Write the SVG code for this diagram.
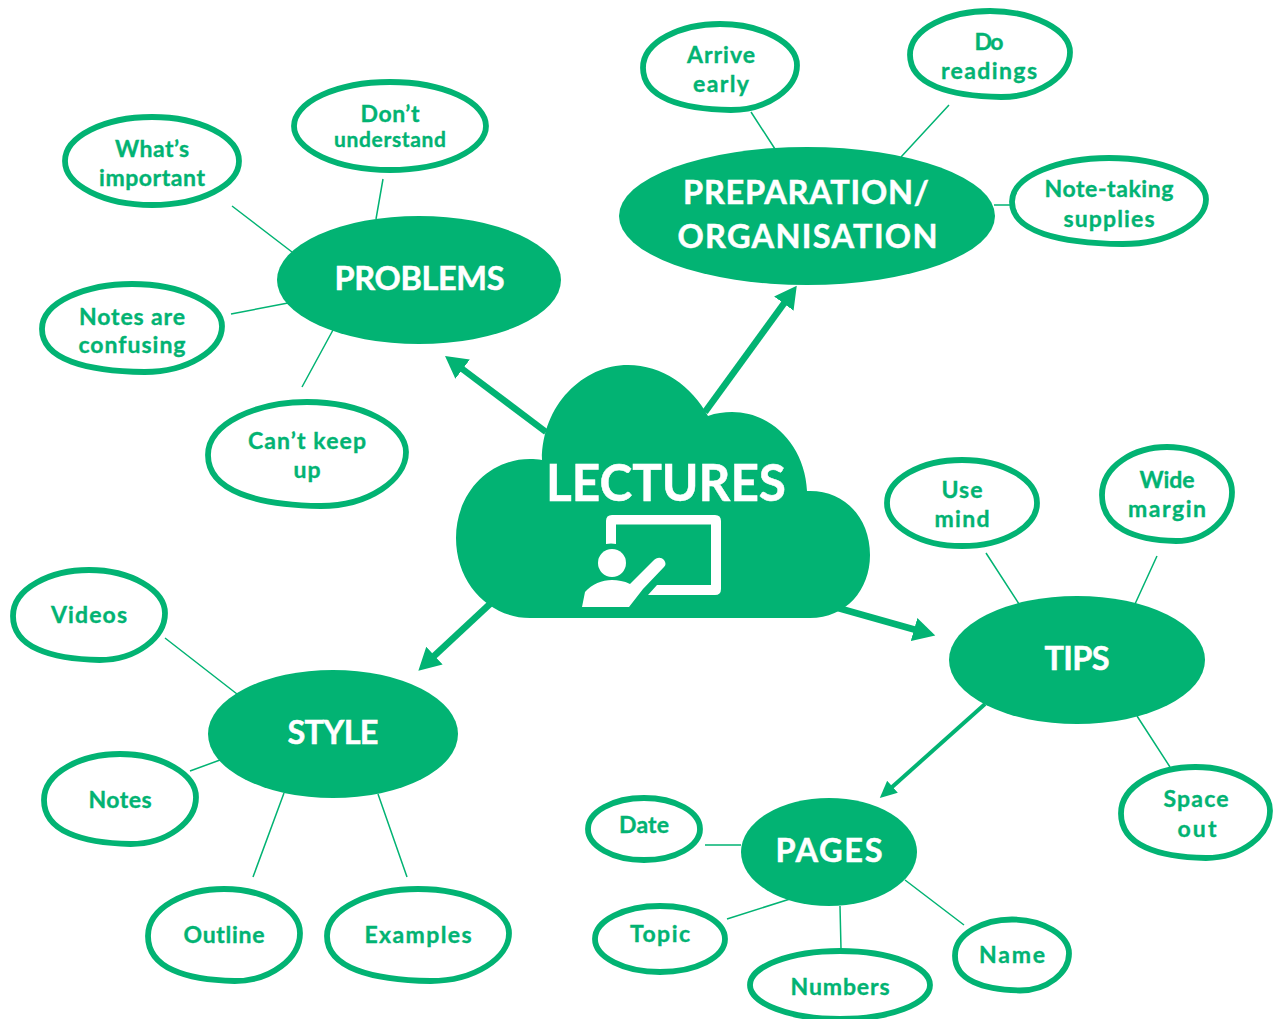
<svg xmlns="http://www.w3.org/2000/svg" width="1273" height="1019" viewBox="0 0 1273 1019">
<style>
.b,#blob{fill:#fff;stroke:#02b373;stroke-width:5.800;vector-effect:non-scaling-stroke}
.f{fill:#02b373}
.t{font-family:Lato,"Liberation Sans",sans-serif;font-weight:700;font-size:23px;fill:#02b373;stroke:#02b373;stroke-width:.35;text-anchor:middle}
.h{font-family:Lato,"Liberation Sans",sans-serif;font-weight:700;font-size:32.5px;fill:#fff;stroke:#fff;stroke-width:.5;text-anchor:middle}
.c{stroke:#02b373;stroke-width:1.5;fill:none}
.a{stroke:#02b373;stroke-width:6.5;fill:none;marker-end:url(#m)}
.a2{stroke:#02b373;stroke-width:4;fill:none;marker-end:url(#m2)}
</style>
<defs>
<marker id="m" markerUnits="userSpaceOnUse" markerWidth="24" markerHeight="26" refX="2" refY="13" orient="auto"><path d="M0 13V1L22 13L0 25Z" fill="#02b373"/></marker>
<marker id="m2" markerUnits="userSpaceOnUse" markerWidth="18" markerHeight="18" refX="2" refY="9" orient="auto"><path d="M0 9V1L17 9L0 17Z" fill="#02b373"/></marker>
<path id="blob" d="M-1 .02C-1 -.6 -.5 -1 0 -1C.55 -1 1 -.55 1 -.04C1 .5 .62 1 .14 1C-.5 .98 -1 .72 -1 .02Z"/>
</defs>
<rect width="1273" height="1019" fill="#fff"/>
<g id="connectors">
<path class="c" d="M232 206L292 252M383 179L376 219M231 314L288 303M333 330L302 387M751 112L775 149M949 105L901 157M994 205H1010M986 553L1019 604M1157 556L1135 604M1137 716L1170 767M705 845H741M727 919L790 899M840 906L841 949M905 880L964 925M165 638L237 694M190 771L220 760M284 793L253 877M378 794L407 877"/>
<path class="a" d="M546 432L461 368"/>
<path class="a" d="M705 412L785 302"/>
<path class="a" d="M491 603L433 657"/>
<path class="a" d="M838 608L916 630"/>
<path class="a2" d="M985 704L891 788"/>
</g>
<g id="lectures">
<path class="f" d="M530 618H810C846 618 870 590 870 555C870 518 845 491 810 491H807C805 446 772 412 732 412C724 412 716 413 708 416C692 386 662 365 628 365C583 365 542 405 542 460C538 459 534 459 530 459C488 459 456 494 456 538C456 584 490 618 530 618Z"/>
<text class="h" x="666" y="501" style="font-size:52px" textLength="240" lengthAdjust="spacingAndGlyphs">LECTURES</text>
<path fill="#fff" d="M606 544V521Q606 515 612 515H715Q721 515 721 521V589Q721 595 715 595H648L657 585H711V524.5H616V544Q611 543 606 544Z"/>
<circle cx="612" cy="563" r="14" fill="#fff"/>
<path fill="#fff" d="M582 607L585 592C592 584 602 580 612 580C618 580 624 581 630 584L653 561C657 557 661 557 664 560C666 563 666 565 664 567L643 589L629 607Z"/>
</g>
<g id="problems"><ellipse class="f" cx="419" cy="280" rx="142" ry="64"/><text class="h" x="419.500" y="289.500" textLength="170">PROBLEMS</text></g>
<g id="preparation"><ellipse class="f" cx="807" cy="216" rx="188" ry="69"/><text class="h" x="806" y="203.500" textLength="246">PREPARATION/</text><text class="h" x="807.500" y="248" textLength="260">ORGANISATION</text></g>
<g id="tips"><ellipse class="f" cx="1077" cy="660" rx="128" ry="64"/><text class="h" x="1077" y="670" textLength="65">TIPS</text></g>
<g id="pages"><ellipse class="f" cx="829" cy="852" rx="88" ry="54"/><text class="h" x="829" y="862" textLength="107">PAGES</text></g>
<g id="style"><ellipse class="f" cx="333" cy="734" rx="125" ry="64"/><text class="h" x="333" y="744" textLength="91">STYLE</text></g>
<g id="whats-important"><ellipse class="b" cx="152" cy="161" rx="87" ry="44"/><text class="t" x="152" y="157" textLength="74">What’s</text><text class="t" x="152" y="186" textLength="106">important</text></g>
<g id="dont-understand"><ellipse class="b" cx="390" cy="126" rx="96" ry="44"/><text class="t" x="390" y="122" textLength="59">Don’t</text><text class="t" x="390" y="147" style="font-size:21px" textLength="112">understand</text></g>
<g id="notes-confusing"><use href="#blob" transform="translate(132 328) scale(90 44)"/><text class="t" x="132" y="325" textLength="106">Notes are</text><text class="t" x="132" y="353" textLength="107">confusing</text></g>
<g id="cant-keep-up"><use href="#blob" transform="translate(307 454) scale(99 52)"/><text class="t" x="307" y="449" textLength="118">Can’t keep</text><text class="t" x="307" y="478" textLength="27">up</text></g>
<g id="arrive-early"><use href="#blob" transform="translate(720 67) scale(77 43)"/><text class="t" x="721" y="63" textLength="68">Arrive</text><text class="t" x="721" y="92" textLength="56">early</text></g>
<g id="do-readings"><use href="#blob" transform="translate(990 54) scale(80 43)"/><text class="t" x="989" y="50" textLength="29">Do</text><text class="t" x="989" y="79" textLength="96">readings</text></g>
<g id="note-taking"><use href="#blob" transform="translate(1109 201) scale(97 43)"/><text class="t" x="1109" y="197" textLength="129">Note-taking</text><text class="t" x="1109" y="227" textLength="91">supplies</text></g>
<g id="use-mind"><ellipse class="b" cx="962" cy="503" rx="75" ry="43"/><text class="t" x="962" y="498" textLength="41">Use</text><text class="t" x="962" y="527" textLength="55">mind</text></g>
<g id="wide-margin"><use href="#blob" transform="translate(1167 494) scale(65 47)"/><text class="t" x="1167" y="488" textLength="55">Wide</text><text class="t" x="1167" y="517" textLength="78">margin</text></g>
<g id="space-out"><use href="#blob" transform="translate(1195.500 812.500) scale(74.500 45.500)"/><text class="t" x="1196" y="807" textLength="65">Space</text><text class="t" x="1197" y="837" textLength="39">out</text></g>
<g id="date"><ellipse class="b" cx="644" cy="829" rx="56" ry="31"/><text class="t" x="644" y="833" textLength="50">Date</text></g>
<g id="topic"><ellipse class="b" cx="660" cy="939" rx="65" ry="33"/><text class="t" x="660" y="942" textLength="60">Topic</text></g>
<g id="numbers"><ellipse class="b" cx="840" cy="985" rx="90" ry="34"/><text class="t" x="840" y="995" textLength="99">Numbers</text></g>
<g id="name"><use href="#blob" transform="translate(1012 955) scale(57 35.500)"/><text class="t" x="1012" y="963" textLength="66">Name</text></g>
<g id="videos"><use href="#blob" transform="translate(89 615) scale(76 45)"/><text class="t" x="89" y="623" textLength="76">Videos</text></g>
<g id="notes"><use href="#blob" transform="translate(120 799) scale(76 45)"/><text class="t" x="120" y="808" textLength="63">Notes</text></g>
<g id="outline"><use href="#blob" transform="translate(224 935) scale(76 46)"/><text class="t" x="224" y="943" textLength="81">Outline</text></g>
<g id="examples"><use href="#blob" transform="translate(418 935) scale(91 46)"/><text class="t" x="418" y="943" textLength="107">Examples</text></g>
</svg>
